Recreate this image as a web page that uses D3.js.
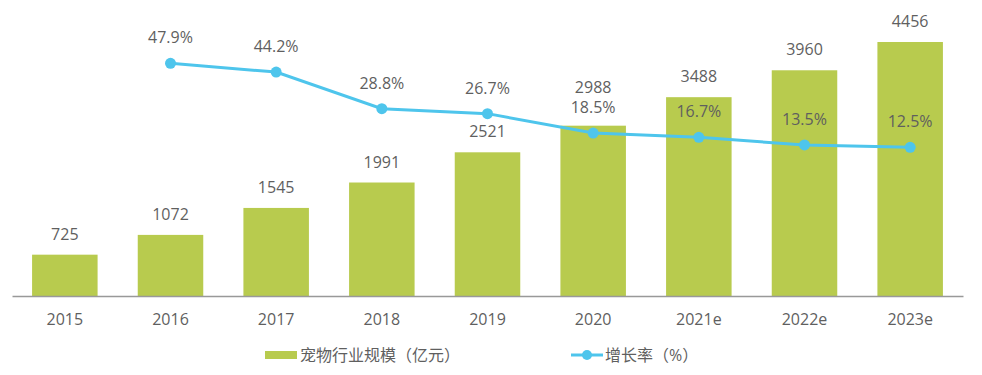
<!DOCTYPE html>
<html>
<head>
<meta charset="utf-8">
<script src="https://cdn.jsdelivr.net/npm/d3@7"></script>
<style>
  body { margin: 0; background: #fff; }
  text { font-family: "Open Sans", "Noto Sans CJK SC", sans-serif; }
</style>
</head>
<body>
<div id="chart"></div>
<script>
// data
var years = ["2015", "2016", "2017", "2018", "2019", "2020", "2021e", "2022e", "2023e"];
var marketSize = [725, 1072, 1545, 1991, 2521, 2988, 3488, 3960, 4456];
var growthRate = [null, 47.9, 44.2, 28.8, 26.7, 18.5, 16.7, 13.5, 12.5];
var legendLabels = ["宠物行业规模（亿元）", "增长率（%）"];

var width = 982, height = 375;
var barColor = "#b8cb4e", lineColor = "#4ec5ec", textColor = "#5f5f5f";

var svg = d3.select("#chart").append("svg")
    .attr("width", width)
    .attr("height", height);

var x = d3.scaleBand().domain(years).range([12, 963]).paddingInner(0.38).paddingOuter(0.19);
var y = d3.scaleLinear().domain([0, 5000]).range([296, 11]);
var yR = d3.scaleLinear().domain([0, 60]).range([177, 34.6]);

// bars
svg.selectAll(".bar")
    .data(years)
    .enter().append("rect")
    .attr("class", "bar")
    .attr("x", d => x(d))
    .attr("width", x.bandwidth())
    .attr("y", (d, i) => y(marketSize[i]))
    .attr("height", (d, i) => y(0) - y(marketSize[i]))
    .style("fill", barColor);

// baseline axis
var xAxis = svg.append("g")
    .attr("transform", "translate(0," + y(0) + ")")
    .call(d3.axisBottom(x).tickSize(0).tickPadding(18));
xAxis.select(".domain").attr("stroke", "#999").attr("stroke-width", 1.5);
xAxis.selectAll("text")
    .style("font-size", "16px")
    .style("fill", textColor);

// growth line
var pts = years.map((d, i) => ({ year: d, v: growthRate[i] })).filter(d => d.v !== null);
var line = d3.line()
    .x(d => x(d.year) + x.bandwidth() / 2)
    .y(d => yR(d.v));

svg.append("path")
    .datum(pts)
    .attr("d", line)
    .style("fill", "none")
    .style("stroke", lineColor)
    .style("stroke-width", 3);

svg.selectAll(".dot")
    .data(pts)
    .enter().append("circle")
    .attr("cx", d => x(d.year) + x.bandwidth() / 2)
    .attr("cy", d => yR(d.v))
    .attr("r", 5.5)
    .style("fill", lineColor);

// percent labels
svg.selectAll(".pct")
    .data(pts)
    .enter().append("text")
    .attr("x", d => x(d.year) + x.bandwidth() / 2)
    .attr("y", d => yR(d.v) - 20)
    .attr("text-anchor", "middle")
    .style("font-size", "16px")
    .style("fill", textColor)
    .text(d => d.v.toFixed(1) + "%");

// bar value labels (pushed above percent label when they collide)
svg.selectAll(".val")
    .data(years)
    .enter().append("text")
    .attr("x", d => x(d) + x.bandwidth() / 2)
    .attr("y", (d, i) => {
        var ly = y(marketSize[i]) - 15;
        if (growthRate[i] !== null) {
            var py = yR(growthRate[i]) - 20;
            if (Math.abs(ly - py) < 18) ly = py - 20;
        }
        return ly;
    })
    .attr("text-anchor", "middle")
    .style("font-size", "16px")
    .style("fill", textColor)
    .text((d, i) => marketSize[i]);

// legend
var lg = svg.append("g").attr("transform", "translate(0,355)");
lg.append("rect")
    .attr("x", 265).attr("y", -4).attr("width", 32).attr("height", 8)
    .style("fill", barColor);
lg.append("text")
    .attr("x", 300).attr("y", 6)
    .style("font-size", "16px").style("fill", textColor)
    .text(legendLabels[0]);
lg.append("line")
    .attr("x1", 571).attr("x2", 603).attr("y1", 0).attr("y2", 0)
    .style("stroke", lineColor).style("stroke-width", 3);
lg.append("circle")
    .attr("cx", 587).attr("cy", 0).attr("r", 5)
    .style("fill", lineColor);
lg.append("text")
    .attr("x", 605).attr("y", 6)
    .style("font-size", "16px").style("fill", textColor)
    .text(legendLabels[1]);
</script>
</body>
</html>
